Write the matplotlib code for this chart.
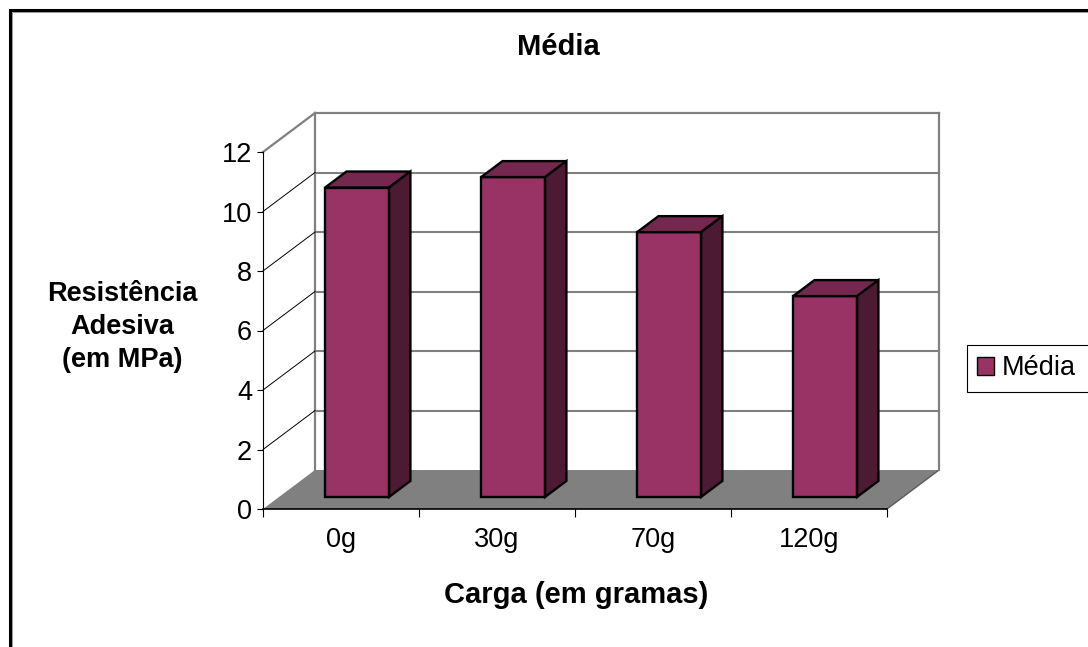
import matplotlib
matplotlib.use("Agg")
import matplotlib.pyplot as plt
from matplotlib.patches import Polygon, Rectangle, Patch
from matplotlib.lines import Line2D
import numpy as np

plt.rcParams['font.family'] = ['Liberation Sans', 'DejaVu Sans']

# Data
categories = ['0g', '30g', '70g', '120g']
media = [10.4, 10.75, 8.9, 6.75]
y_ticks = [0, 2, 4, 6, 8, 10, 12]

title = 'Média'
x_label = 'Carga (em gramas)'
y_label = 'Resistência\nAdesiva\n(em MPa)'
series_name = 'Média'

# Colours
FRONT = '#993366'
TOP = '#74274f'
SIDE = '#4d1a33'
FLOOR = '#808080'
GRID = '#808080'

W, H = 1088, 647
fig = plt.figure(figsize=(W / 100, H / 100), dpi=100)
fig.patch.set_facecolor('white')

# Front plane of the plot area
ax = fig.add_axes([263 / W, 1 - 509 / H, 624 / W, 357 / H])
ax.set_xlim(0, len(categories))
ax.set_ylim(0, 12)
ax.patch.set_alpha(0)

# Oblique depth offset (pixels right / up for full depth), converted to data units
DEPTH_PX = (52, 39)
ddx = DEPTH_PX[0] / (ax.bbox.width / len(categories))
ddy = DEPTH_PX[1] / (ax.bbox.height / 12)


def proj(x, y, d):
    return (x + d * ddx, y + d * ddy)


n = len(categories)
ymax = y_ticks[-1]

# Floor
ax.add_patch(Polygon([proj(0, 0, 0), proj(n, 0, 0), proj(n, 0, 1), proj(0, 0, 1)],
                     closed=True, facecolor=FLOOR, edgecolor='none', zorder=0.5, clip_on=False))
ax.add_line(Line2D(*zip(proj(n, 0, 0), proj(n, 0, 1)), color='#5a5a5a', lw=1.0,
                   zorder=0.6, clip_on=False))

# Back wall
ax.add_patch(Polygon([proj(0, 0, 1), proj(n, 0, 1), proj(n, ymax, 1), proj(0, ymax, 1)],
                     closed=True, facecolor='white', edgecolor='none', zorder=0.5, clip_on=False))
for seg in [(proj(0, 0, 1), proj(0, ymax, 1)),
            (proj(0, ymax, 1), proj(n, ymax, 1)),
            (proj(n, ymax, 1), proj(n, 0, 1)),
            (proj(0, ymax, 0), proj(0, ymax, 1))]:
    ax.add_line(Line2D(*zip(*seg), color=GRID, lw=1.6, zorder=0.8, clip_on=False))

# Gridlines on the back wall and side wall
for v in y_ticks[1:-1]:
    ax.add_line(Line2D(*zip(proj(0, v, 1), proj(n, v, 1)), color=GRID, lw=1.5,
                       zorder=0.8, clip_on=False))
    ax.add_line(Line2D(*zip(proj(0, v, 0), proj(0, v, 1)), color='black', lw=0.7,
                       zorder=0.8, clip_on=False))

# 3D bars
bar_w = 0.41
d0, d1 = 0.31, 0.72
for i, v in enumerate(media):
    xl = i + 0.5 - bar_w / 2
    xr = i + 0.5 + bar_w / 2
    faces = [
        ([proj(xl, 0, d0), proj(xr, 0, d0), proj(xr, v, d0), proj(xl, v, d0)], FRONT),
        ([proj(xl, v, d0), proj(xr, v, d0), proj(xr, v, d1), proj(xl, v, d1)], TOP),
        ([proj(xr, 0, d0), proj(xr, 0, d1), proj(xr, v, d1), proj(xr, v, d0)], SIDE),
    ]
    for verts, col in faces:
        ax.add_patch(Polygon(verts, closed=True, facecolor=col, edgecolor='black',
                             lw=1.7, joinstyle='miter', zorder=2, clip_on=False))

# Axes, ticks and tick labels
for s in ['top', 'right']:
    ax.spines[s].set_visible(False)
ax.spines['left'].set_linewidth(0.8)
ax.spines['bottom'].set_linewidth(1.2)
ax.spines['left'].set_zorder(3)
ax.spines['bottom'].set_zorder(3)

ax.set_yticks(y_ticks)
ax.set_yticklabels([str(t) for t in y_ticks])
ax.tick_params(axis='y', direction='out', length=4.5, width=0.8, pad=3.5,
               labelsize=19.5, colors='black')

ax.set_xticks(np.arange(n + 1))
ax.set_xticklabels([''] * (n + 1))
ax.set_xticks(np.arange(n) + 0.5, minor=True)
ax.set_xticklabels(categories, minor=True)
ax.tick_params(axis='x', which='major', direction='out', length=5.5, width=0.8)
ax.tick_params(axis='x', which='minor', length=0, pad=13, labelsize=19.5)

# Titles
fig.text(558 / W, 1 - 55 / H, title, ha='center', va='baseline',
         fontsize=21, fontweight='bold')
fig.text(576 / W, 1 - 603 / H, x_label, ha='center', va='baseline',
         fontsize=21, fontweight='bold')
fig.text(122 / W, 1 - 367 / H, y_label, ha='center', va='baseline',
         multialignment='center', fontsize=19.5, fontweight='bold', linespacing=1.35)

# Legend (frame drawn separately so it runs to the chart-area edge)
leg = fig.legend(handles=[Patch(facecolor=FRONT, edgecolor='black', lw=1.0, label=series_name)],
                 loc='upper left', bbox_to_anchor=(967 / W, 1 - 345 / H),
                 bbox_transform=fig.transFigure, borderaxespad=0, fontsize=19.5,
                 handlelength=0.62, handleheight=0.62, handletextpad=0.3,
                 borderpad=0.38, frameon=False)
fig.patches.append(Rectangle((967 / W, 1 - 392 / H), 140 / W, 47 / H,
                             transform=fig.transFigure, facecolor='white',
                             edgecolor='black', lw=0.8, zorder=0))

# Chart-area border
fig.patches.append(Rectangle((9.5 / W, -0.1), 1.2, 1.1 - 9.5 / H, transform=fig.transFigure,
                             fill=False, edgecolor='black', lw=2.2, zorder=10))
fig.patches.append(Rectangle((11.5 / W, -0.1), 1.2, 1.1 - 11.5 / H, transform=fig.transFigure,
                             fill=False, edgecolor='#888888', lw=0.6, zorder=10))

fig.savefig('out.png', dpi=100)
